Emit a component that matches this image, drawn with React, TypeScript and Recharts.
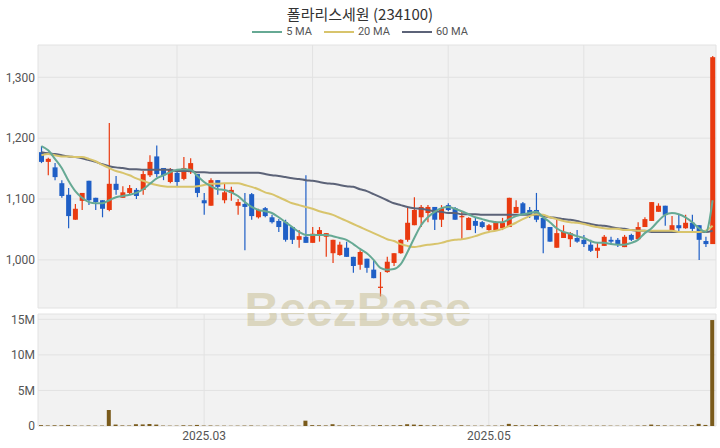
import React from "react";
import { Bar, CartesianGrid, ComposedChart, Line, XAxis, YAxis } from "recharts";

const title = "폴라리스세원 (234100)";

// daily candles (KRW)
const open = [
  1177, 1161, 1152, 1126, 1107, 1066, 1097, 1130, 1102, 1098,
  1082, 1125, 1102, 1110, 1115, 1115, 1139, 1170, 1151, 1128,
  1143, 1133, 1144, 1141, 1098, 1089, 1131, 1098, 1110, 1089,
  1092, 1108, 1070, 1085, 1070, 1064, 1062, 1054, 1033, 1038,
  1028, 1041, 1038, 1011, 1008, 1020, 1005, 992, 1002, 984,
  954, 980, 995, 1011, 1033, 1057, 1070, 1077, 1087, 1066,
  1090, 1085, 1070, 1049, 1064, 1062, 1049, 1049, 1052, 1054,
  1077, 1093, 1082, 1082, 1069, 1054, 1020, 1036, 1034, 1036,
  1033, 1025, 1015, 1023, 1033, 1033, 1021, 1041, 1034, 1054,
  1064, 1079, 1089, 1048, 1057, 1052, 1061, 1057, 1031, 1026,
];
const high = [
  1187, 1168, 1159, 1131, 1118, 1092, 1110, 1130, 1102, 1098,
  1225, 1138, 1121, 1123, 1118, 1146, 1172, 1188, 1151, 1151,
  1146, 1169, 1167, 1141, 1110, 1134, 1131, 1126, 1120, 1100,
  1110, 1110, 1084, 1087, 1074, 1067, 1066, 1054, 1049, 1139,
  1054, 1054, 1044, 1033, 1030, 1030, 1005, 1016, 1002, 1000,
  980, 1005, 1011, 1034, 1087, 1103, 1090, 1090, 1087, 1090,
  1093, 1087, 1079, 1070, 1070, 1064, 1059, 1064, 1069, 1102,
  1098, 1095, 1087, 1110, 1069, 1054, 1066, 1057, 1046, 1049,
  1041, 1033, 1028, 1041, 1038, 1036, 1041, 1043, 1062, 1070,
  1095, 1093, 1089, 1072, 1074, 1074, 1074, 1057, 1038, 1335,
];
const low = [
  1159, 1139, 1131, 1102, 1052, 1066, 1082, 1090, 1082, 1070,
  1080, 1107, 1102, 1108, 1100, 1107, 1136, 1136, 1131, 1126,
  1121, 1131, 1141, 1103, 1074, 1089, 1107, 1093, 1097, 1074,
  1016, 1066, 1068, 1070, 1060, 1046, 1030, 1026, 1020, 1028,
  1028, 1030, 1005, 995, 1007, 1005, 979, 984, 979, 970,
  940, 979, 990, 1010, 1030, 1057, 1054, 1062, 1049, 1054,
  1080, 1066, 1033, 1049, 1044, 1052, 1048, 1048, 1049, 1054,
  1077, 1074, 1069, 1062, 1011, 1030, 1020, 1036, 1021, 1028,
  1021, 1013, 1003, 1023, 1025, 1021, 1021, 1031, 1033, 1054,
  1064, 1079, 1056, 1048, 1044, 1051, 1046, 1000, 1021, 1026,
];
const close = [
  1161, 1166, 1136, 1105, 1072, 1084, 1110, 1098, 1095, 1084,
  1125, 1115, 1111, 1118, 1105, 1141, 1161, 1141, 1139, 1149,
  1128, 1151, 1159, 1110, 1093, 1131, 1120, 1111, 1115, 1095,
  1087, 1072, 1082, 1072, 1062, 1054, 1033, 1033, 1039, 1028,
  1043, 1049, 1044, 1033, 1025, 1005, 990, 1013, 987, 970,
  956, 997, 1011, 1033, 1061, 1082, 1087, 1087, 1066, 1085,
  1082, 1066, 1072, 1069, 1056, 1054, 1057, 1062, 1061, 1102,
  1087, 1074, 1074, 1066, 1052, 1030, 1044, 1046, 1044, 1030,
  1026, 1015, 1020, 1038, 1030, 1026, 1038, 1033, 1054, 1067,
  1095, 1089, 1074, 1057, 1052, 1061, 1051, 1033, 1026, 1333,
];

const ma5 = [
  1187, 1180, 1166, 1151, 1130, 1113, 1102, 1095, 1093, 1093,
  1098, 1103, 1105, 1107, 1110, 1116, 1125, 1134, 1139, 1144,
  1148, 1149, 1148, 1138, 1128, 1121, 1116, 1115, 1111, 1105,
  1095, 1087, 1082, 1080, 1077, 1070, 1062, 1054, 1046, 1041,
  1041, 1041, 1041, 1039, 1036, 1033, 1026, 1018, 1011, 1000,
  987, 984, 985, 993, 1013, 1036, 1057, 1070, 1079, 1085,
  1087, 1084, 1080, 1075, 1070, 1067, 1064, 1062, 1062, 1067,
  1072, 1075, 1077, 1079, 1070, 1062, 1052, 1046, 1043, 1039,
  1036, 1031, 1028, 1028, 1026, 1025, 1025, 1028, 1033, 1044,
  1052, 1064, 1074, 1077, 1075, 1070, 1062, 1052, 1046, 1098,
];
const ma20 = [
  1172, 1174, 1172, 1170, 1170, 1169, 1169, 1166, 1162, 1156,
  1151, 1146, 1143, 1139, 1134, 1130, 1126, 1123, 1121, 1120,
  1120, 1120, 1120, 1121, 1123, 1125, 1125, 1126, 1126, 1126,
  1123, 1120, 1116, 1111, 1108, 1103, 1098, 1093, 1090, 1087,
  1084, 1080, 1077, 1074, 1069, 1064, 1059, 1054, 1049, 1044,
  1039, 1034, 1031, 1026, 1023, 1021, 1023, 1025, 1026, 1028,
  1031, 1033, 1034, 1036, 1039, 1043, 1046, 1048, 1051, 1056,
  1061, 1067, 1072, 1075, 1074, 1070, 1067, 1064, 1062, 1061,
  1059, 1056, 1054, 1052, 1051, 1051, 1049, 1049, 1048, 1048,
  1048, 1048, 1048, 1048, 1046, 1046, 1046, 1046, 1048, 1056,
];
const ma60 = [
  1177, 1175, 1174, 1172, 1170, 1169, 1167, 1164, 1161, 1157,
  1154, 1152, 1151, 1149, 1149, 1148, 1148, 1148, 1148, 1148,
  1146, 1146, 1146, 1144, 1144, 1143, 1143, 1143, 1143, 1143,
  1143, 1143, 1143, 1141, 1139, 1138, 1136, 1134, 1133, 1131,
  1130, 1128, 1126, 1125, 1123, 1121, 1120, 1116, 1113, 1108,
  1103, 1098, 1093, 1090, 1087, 1085, 1084, 1082, 1080, 1079,
  1077, 1077, 1075, 1075, 1075, 1074, 1074, 1074, 1074, 1074,
  1074, 1074, 1074, 1074, 1072, 1070, 1069, 1067, 1066, 1064,
  1061, 1059, 1057, 1056, 1054, 1052, 1051, 1049, 1048, 1048,
  1046, 1046, 1046, 1046, 1046, 1046, 1046, 1046, 1046, 1048,
];

// volume in millions of shares
const volume = [
  0.12, 0.08, 0.10, 0.09, 0.15, 0.06, 0.05, 0.07, 0.05, 0.06,
  2.25, 0.20, 0.08, 0.07, 0.25, 0.22, 0.28, 0.20, 0.06, 0.05,
  0.05, 0.10, 0.08, 0.15, 0.06, 0.07, 0.05, 0.05, 0.04, 0.05,
  0.06, 0.07, 0.05, 0.05, 0.04, 0.05, 0.05, 0.06, 0.04, 0.75,
  0.12, 0.10, 0.08, 0.25, 0.08, 0.06, 0.10, 0.07, 0.06, 0.08,
  0.12, 0.08, 0.10, 0.12, 0.25, 0.20, 0.15, 0.08, 0.10, 0.08,
  0.06, 0.07, 0.10, 0.06, 0.05, 0.05, 0.05, 0.06, 0.08, 0.30,
  0.12, 0.10, 0.08, 0.15, 0.10, 0.08, 0.12, 0.06, 0.05, 0.05,
  0.05, 0.06, 0.05, 0.06, 0.05, 0.04, 0.05, 0.04, 0.06, 0.08,
  0.20, 0.10, 0.08, 0.06, 0.06, 0.08, 0.10, 0.30, 0.15, 14.9,
];

const dateTickIdx = [24, 66];
const dateTickLabels = ["2025.03", "2025.05"];
const priceGridIdx = [20, 40, 60, 80];
const priceTicks = [1000, 1100, 1200, 1300];
const volumeTicks = [0, 5, 10, 15];

const RED = "#e93a10";
const BLUE = "#1f5fc6";
const VOL = "#7a5b1c";
const MA5 = "#66a994";
const MA20 = "#d8c46c";
const MA60 = "#5c6378";
const PANEL = "#f2f2f2";
const GRID = "#e2e2e2";

const rows = open.map((o, i) => ({
  i,
  o,
  h: high[i],
  l: low[i],
  c: close[i],
  ma5: ma5[i],
  ma20: ma20[i],
  ma60: ma60[i],
  vol: volume[i],
}));

function Candle(props: any) {
  const { x, y, width, height, payload } = props;
  const { o, h, l, c } = payload;
  const color = c >= o ? RED : BLUE;
  const top = Math.min(y, y + height);
  const bottom = Math.max(y, y + height);
  const k = (bottom - top) / (h - l);
  const yO = top + (h - o) * k;
  const yC = top + (h - c) * k;
  const cx = x + width / 2;
  return (
    <g>
      <line x1={cx} x2={cx} y1={top} y2={bottom} stroke={color} strokeWidth={1.2} />
      <rect
        x={x}
        y={Math.min(yO, yC)}
        width={width}
        height={Math.max(1.2, Math.abs(yC - yO))}
        fill={color}
      />
    </g>
  );
}

const tickStyle = { fontSize: 12, fill: "#555" };

export default function App() {
  return (
    <div
      style={{
        position: "fixed",
        left: 0,
        top: 0,
        width: 720,
        height: 448,
        background: "#fff",
        overflow: "hidden",
        fontFamily: "Roboto, 'Noto Sans CJK KR', sans-serif",
      }}
    >
      <div
        style={{
          position: "absolute",
          top: 4,
          width: 720,
          textAlign: "center",
          fontSize: 15,
          lineHeight: "20px",
          color: "#333",
          fontFamily: "'Noto Sans CJK KR', sans-serif",
        }}
      >
        {title}
      </div>
      <div
        style={{
          position: "absolute",
          top: 25,
          width: 720,
          display: "flex",
          justifyContent: "center",
          gap: 12,
          fontSize: 11,
          lineHeight: "14px",
          color: "#555",
        }}
      >
        {[
          ["5 MA", MA5],
          ["20 MA", MA20],
          ["60 MA", MA60],
        ].map(([name, color]) => (
          <div key={name} style={{ display: "flex", alignItems: "center" }}>
            <span
              style={{ width: 30, height: 2, background: color, marginRight: 4, display: "inline-block" }}
            />
            {name}
          </div>
        ))}
      </div>

      <div style={{ position: "absolute", left: 0, top: 0 }}>
        <ComposedChart
          width={720}
          height={310}
          data={rows}
          margin={{ top: 45, right: 4, left: 0, bottom: 2 }}
        >
          <CartesianGrid fill={PANEL} stroke={GRID} />
          <XAxis dataKey="i" hide ticks={priceGridIdx} interval={0} />
          <YAxis
            width={38}
            domain={[921, 1353]}
            allowDataOverflow
            ticks={priceTicks}
            tickFormatter={(v: number) => v.toLocaleString("en-US")}
            tickLine={false}
            axisLine={false}
            tickSize={0}
            tickMargin={3}
            tick={tickStyle}
          />
          <Bar
            dataKey={(d: any) => [d.l, d.h]}
            barSize={5}
            shape={<Candle />}
            isAnimationActive={false}
          />
          <Line type="monotone" dataKey="ma60" stroke={MA60} strokeWidth={2} dot={false} isAnimationActive={false} />
          <Line type="monotone" dataKey="ma20" stroke={MA20} strokeWidth={2} dot={false} isAnimationActive={false} />
          <Line type="monotone" dataKey="ma5" stroke={MA5} strokeWidth={2} dot={false} isAnimationActive={false} />
        </ComposedChart>
      </div>

      <div style={{ position: "absolute", left: 0, top: 312 }}>
        <ComposedChart
          width={720}
          height={136}
          data={rows}
          margin={{ top: 2, right: 4, left: 0, bottom: 0 }}
        >
          <CartesianGrid fill={PANEL} stroke={GRID} />
          <XAxis
            dataKey="i"
            ticks={dateTickIdx}
            interval={0}
            tickFormatter={(v: number) => dateTickLabels[dateTickIdx.indexOf(v)]}
            tickLine={false}
            axisLine={false}
            tickSize={0}
            tickMargin={5}
            height={22}
            tick={tickStyle}
          />
          <YAxis
            width={38}
            domain={[0, 15.75]}
            allowDataOverflow
            ticks={volumeTicks}
            tickFormatter={(v: number) => (v === 0 ? "0" : `${v}M`)}
            tickLine={false}
            axisLine={false}
            tickSize={0}
            tickMargin={3}
            tick={tickStyle}
          />
          <Bar dataKey="vol" fill={VOL} barSize={4} isAnimationActive={false} />
        </ComposedChart>
      </div>

      <div
        style={{
          position: "absolute",
          top: 286,
          left: 0,
          width: 716,
          textAlign: "center",
          fontSize: 48,
          lineHeight: "48px",
          fontWeight: 700,
          fontFamily: "'Liberation Sans', sans-serif",
          color: "rgba(196,186,140,0.5)",
          pointerEvents: "none",
        }}
      >
        BeezBase
      </div>
      <div
        style={{ position: "absolute", top: 309, left: 38, width: 678, height: 4, background: "#fff" }}
      />
    </div>
  );
}
